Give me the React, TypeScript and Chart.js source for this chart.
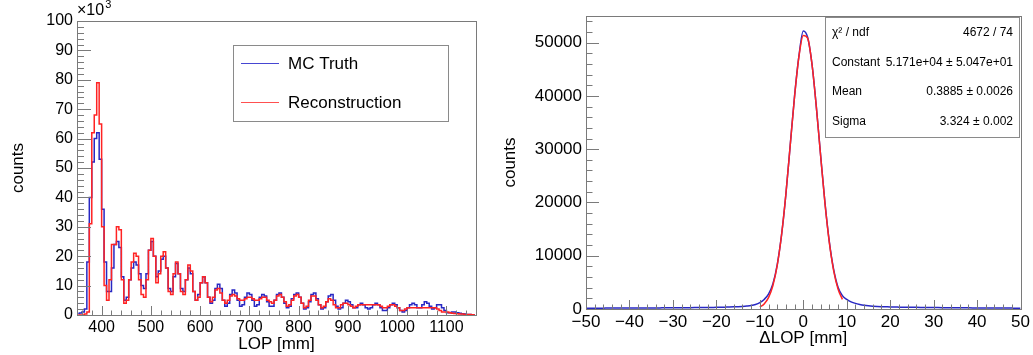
import React, { useEffect, useRef } from 'react';
import { Chart, registerables } from 'chart.js';

Chart.register(...registerables);

const FONT = "'Liberation Sans', Arial, Helvetica, sans-serif";
const BLUE = 'rgb(40,40,195)';
const RED = 'rgb(255,35,35)';
const AXIS = '#7a7a7a';

// ---------- Left panel: LOP histograms (counts in units of 10^3), 5 mm bins from 350 mm ----------
const lopBinStart = 350;
const lopBinWidth = 5;

const mcTruth = [
  0.5, 0.7, 1, 2, 18, 40, 52, 60, 62, 53,
  36, 18, 8, 8, 16, 24, 25, 23, 13, 5,
  6, 12, 16, 18, 17, 14, 10, 9, 14, 22,
  25, 20, 13, 15, 19, 20, 16, 9, 8, 13,
  17.5, 14, 9, 8, 12, 16, 14, 8, 5, 7,
  11, 13, 11, 6, 4, 5, 9, 10.5, 9, 5,
  3, 4, 7, 8.5, 7.5, 5, 3, 3.5, 6, 7.5,
  7, 5, 3, 3.5, 6, 7, 6.5, 4.5, 3, 3,
  5, 7, 7.5, 6, 4, 2.5, 3, 5.5, 7, 7.5,
  6, 4, 2, 2.5, 4.5, 7, 7.5, 5.5, 3.5, 2,
  2.5, 4.5, 6.5, 7, 5, 3, 2, 2.5, 4, 5,
  4.5, 3.5, 2.5, 2.5, 3.5, 4, 3.5, 2.5, 2, 2.5,
  3.5, 4, 3.5, 2.5, 1.5, 1.5, 2.5, 3.5, 4, 3.5,
  2.5, 1.5, 1, 1.5, 2.5, 3.5, 4, 3.5, 2.5, 2.5,
  3.5, 4.5, 4, 3, 2, 2.5, 3.5, 3.5, 2.5, 1.5,
  0.8, 0.8, 1, 1, 0.8, 0.6, 0.4, 0.3, 0.2, 0.2,
  0.1, 0.1,
];

const reconstruction = [
  0, 0, 0, 0.3, 1, 31, 62, 68, 79, 65,
  30, 10, 5, 12, 24, 24, 30, 29, 12, 4,
  5, 12, 18, 21, 20, 12, 7, 6, 12, 22,
  26, 20, 11, 14, 20, 21.5, 16, 8, 7, 14,
  18, 14, 8, 7, 12, 17, 15, 8, 5, 6,
  11, 13, 11, 6, 4.5, 6, 8.5, 9, 7.5, 5,
  4, 5, 6.5, 7, 6.5, 5.5, 5, 5, 5.5, 6,
  6, 5.5, 5, 5, 5.5, 6, 6, 5, 4.5, 4,
  5, 6.5, 7, 6, 4.5, 3, 3.5, 5, 6.5, 7,
  6, 4, 2.5, 3, 5, 6.5, 6.5, 5, 3.5, 2.5,
  3, 4.5, 5.5, 5, 3.5, 2.5, 2.5, 3.5, 4, 4,
  3.5, 3, 2.5, 3, 3.5, 3.5, 3.5, 3.5, 3.5, 3.5,
  3.5, 3.5, 3.5, 3, 2.5, 2.5, 3, 3.5, 3.5, 3,
  2.5, 1.5, 1.5, 2, 2.5, 2.5, 2.5, 2.5, 2.5, 2.5,
  2.5, 2.5, 2.5, 2.5, 2.5, 2.5, 2, 1.5, 1, 1,
  1, 0.8, 0.6, 0.5, 0.4, 0.3, 0.3, 0.2, 0.2, 0.2,
  0.1, 0.1,
];

const lopXTicks = [400, 500, 600, 700, 800, 900, 1000, 1100];
const lopYTicks = [0, 10, 20, 30, 40, 50, 60, 70, 80, 90, 100];
const legendLabels = ['MC Truth', 'Reconstruction'];

// ---------- Right panel: ΔLOP histogram (1 mm sampling from -50) and Gaussian fit ----------
const dLopStart = -50;
const dLopStep = 1;
const dLopCounts = [
  150, 150, 160, 160, 160, 170, 170, 170, 180, 180,
  180, 190, 190, 200, 200, 200, 210, 210, 220, 220,
  230, 230, 240, 240, 250, 260, 270, 280, 290, 300,
  310,
  330, 350, 370, 400, 440, 490, 560, 660, 850, 1200,
  1800, 2800, 4700, 8300, 13900, 21500, 30800, 40000, 47500, 52200,
  51000, 46000, 38000, 28800, 19900, 12600, 7400, 4100, 2500, 1800,
  1350, 1050, 850, 700, 600, 530, 480, 440, 410, 380,
  360, 350, 340, 330, 320, 310, 300, 290, 280, 270,
  260, 250, 240, 235, 230, 225, 220, 215, 210, 205,
  200, 195, 190, 185, 180, 175, 170, 165, 160, 160,
];

const fitX = [-10, -9, -8, -7, -6, -5, -4, -3, -2, -1, 0, 1, 2, 3, 4, 5, 6, 7, 8, 9];
const fitY = [
  391, 957, 2139, 4370, 8150, 13890, 21620, 30740, 39930, 47380,
  51355, 50850, 45990, 37990, 28670, 19770, 12450, 7160, 3765, 1806,
];

const dLopXTicks = [-50, -40, -30, -20, -10, 0, 10, 20, 30, 40, 50];
const dLopYTicks = [0, 10000, 20000, 30000, 40000, 50000];

const statsRows: [string, string][] = [
  ['\u03C7\u00B2 / ndf', '4672 / 74'],
  ['Constant', '5.171e+04 \u00B1 5.047e+01'],
  ['Mean', '0.3885 \u00B1 0.0026'],
  ['Sigma', '3.324 \u00B1 0.002'],
];

// ---------- ROOT-like frame and inward ticks ----------
const framePlugin = {
  id: 'rootFrame',
  afterDatasetsDraw(chart: any, _args: any, opts: any) {
    const { ctx, chartArea: a, scales } = chart;
    const xs = scales.x;
    const ys = scales.y;
    ctx.save();
    ctx.strokeStyle = AXIS;
    ctx.lineWidth = 1;
    ctx.strokeRect(Math.round(a.left) + 0.5, Math.round(a.top) + 0.5, Math.round(a.right - a.left), Math.round(a.bottom - a.top));
    ctx.beginPath();
    const isMajor = (list: number[], v: number) => list.some((m) => Math.abs(m - v) < 1e-6);
    for (let k = Math.ceil(xs.min / opts.xMinor); k * opts.xMinor <= xs.max + 1e-9; k++) {
      const v = k * opts.xMinor;
      const px = Math.round(xs.getPixelForValue(v)) + 0.5;
      const len = isMajor(opts.xMajor, v) ? opts.xLen : opts.xLen / 2;
      ctx.moveTo(px, a.bottom);
      ctx.lineTo(px, a.bottom - len);
    }
    for (let k = Math.ceil(ys.min / opts.yMinor); k * opts.yMinor <= ys.max + 1e-9; k++) {
      const v = k * opts.yMinor;
      const py = Math.round(ys.getPixelForValue(v)) + 0.5;
      const len = isMajor(opts.yMajor, v) ? opts.yLen : opts.yLen / 2;
      ctx.moveTo(a.left, py);
      ctx.lineTo(a.left + len, py);
    }
    ctx.stroke();
    ctx.restore();
  },
};

const leftOverlay = {
  id: 'leftOverlay',
  afterDraw(chart: any) {
    const { ctx, chartArea: a } = chart;
    ctx.save();
    // x10^3 multiplier
    ctx.fillStyle = '#000';
    ctx.textBaseline = 'alphabetic';
    ctx.textAlign = 'left';
    ctx.font = `16px ${FONT}`;
    const base = '\u00D710';
    ctx.fillText(base, a.left, 15);
    const w = ctx.measureText(base).width;
    ctx.font = `11px ${FONT}`;
    ctx.fillText('3', a.left + w + 1, 8);
    // legend box
    const bx = 233, by = 45, bw = 215, bh = 76;
    ctx.fillStyle = '#fff';
    ctx.fillRect(bx, by, bw, bh);
    ctx.strokeStyle = '#8a8a8a';
    ctx.lineWidth = 1;
    ctx.strokeRect(bx + 0.5, by + 0.5, bw, bh);
    const colors = ['rgb(70,70,210)', 'rgb(255,80,80)'];
    const rowsY = [63, 102];
    ctx.font = `17px ${FONT}`;
    ctx.textBaseline = 'middle';
    legendLabels.forEach((lab, i) => {
      ctx.strokeStyle = colors[i];
      ctx.lineWidth = 1.2;
      ctx.beginPath();
      ctx.moveTo(241, rowsY[i] + 0.5);
      ctx.lineTo(279, rowsY[i] + 0.5);
      ctx.stroke();
      ctx.fillStyle = '#000';
      ctx.fillText(lab, 288, rowsY[i] + 1);
    });
    ctx.restore();
  },
};

const rightOverlay = {
  id: 'rightOverlay',
  afterDraw(chart: any) {
    const { ctx, chartArea: a } = chart;
    ctx.save();
    const bw = 194, bh = 120;
    const bx = Math.round(a.right) - 2 - bw;
    const by = Math.round(a.top) + 1;
    ctx.fillStyle = '#fff';
    ctx.fillRect(bx, by, bw, bh);
    ctx.strokeStyle = '#8a8a8a';
    ctx.lineWidth = 1;
    ctx.strokeRect(bx + 0.5, by + 0.5, bw, bh);
    ctx.fillStyle = '#000';
    ctx.font = `12px ${FONT}`;
    ctx.textBaseline = 'middle';
    statsRows.forEach((row, i) => {
      const y = by + 16 + i * 29.5;
      ctx.textAlign = 'left';
      ctx.fillText(row[0], bx + 7, y);
      ctx.textAlign = 'right';
      ctx.fillText(row[1], bx + bw - 6, y);
    });
    ctx.restore();
  },
};

const tickFont = (size: number) => ({ size, family: FONT });

function leftConfig(): any {
  const pts = (arr: number[]) => arr.map((y, i) => ({ x: lopBinStart + lopBinWidth * (i + 0.5), y }));
  return {
    type: 'line',
    data: {
      datasets: [
        { label: legendLabels[1], data: pts(reconstruction), borderColor: RED, borderWidth: 1.5, stepped: 'middle', pointRadius: 0, fill: false, order: 0 },
        { label: legendLabels[0], data: pts(mcTruth), borderColor: BLUE, borderWidth: 1.5, stepped: 'middle', pointRadius: 0, fill: false, order: 1 },
      ],
    },
    options: {
      responsive: false,
      animation: false,
      events: [],
      layout: { padding: { left: 0, right: 24, top: 21, bottom: 0 } },
      plugins: {
        legend: { display: false },
        tooltip: { enabled: false },
        rootFrame: { xMinor: 20, xMajor: lopXTicks, xLen: 9, yMinor: 2, yMajor: lopYTicks, yLen: 14 },
      },
      scales: {
        x: {
          type: 'linear', min: 350, max: 1160,
          afterFit: (s: any) => { s.height = 40; },
          afterBuildTicks: (s: any) => { s.ticks = lopXTicks.map((v) => ({ value: v })); },
          grid: { display: false, drawTicks: false },
          border: { display: false },
          ticks: { autoSkip: false, maxRotation: 0, padding: 3, font: tickFont(16), color: '#000', callback: (v: any) => String(v) },
          title: { display: true, text: 'LOP [mm]', font: tickFont(17), color: '#000', padding: { top: 0, bottom: 0 } },
        },
        y: {
          type: 'linear', min: 0, max: 100,
          afterFit: (s: any) => { s.width = 77; },
          afterBuildTicks: (s: any) => { s.ticks = lopYTicks.map((v) => ({ value: v })); },
          grid: { display: false, drawTicks: false },
          border: { display: false },
          ticks: { autoSkip: false, padding: 4, font: tickFont(16), color: '#000', callback: (v: any) => String(v) },
          title: { display: true, text: 'counts', font: tickFont(17), color: '#000', padding: { top: 8, bottom: 0 } },
        },
      },
    },
    plugins: [framePlugin, leftOverlay],
  };
}

function rightConfig(): any {
  const hist = dLopCounts.map((y, i) => ({ x: dLopStart + dLopStep * i, y }));
  const fit = fitY.map((y, i) => ({ x: fitX[i], y }));
  return {
    type: 'line',
    data: {
      datasets: [
        { label: 'fit', data: fit, borderColor: RED, borderWidth: 1.5, pointRadius: 0, fill: false, cubicInterpolationMode: 'monotone', order: 0 },
        { label: 'dLOP', data: hist, borderColor: BLUE, borderWidth: 1.5, pointRadius: 0, fill: false, cubicInterpolationMode: 'monotone', order: 1 },
      ],
    },
    options: {
      responsive: false,
      animation: false,
      events: [],
      layout: { padding: { left: 0, right: 12, top: 16, bottom: 0 } },
      plugins: {
        legend: { display: false },
        tooltip: { enabled: false },
        rootFrame: { xMinor: 2, xMajor: dLopXTicks, xLen: 9, yMinor: 2000, yMajor: dLopYTicks, yLen: 13 },
      },
      scales: {
        x: {
          type: 'linear', min: -50, max: 50,
          afterFit: (s: any) => { s.height = 46; },
          afterBuildTicks: (s: any) => { s.ticks = dLopXTicks.map((v) => ({ value: v })); },
          grid: { display: false, drawTicks: false },
          border: { display: false },
          ticks: { autoSkip: false, maxRotation: 0, padding: 3, font: tickFont(17), color: '#000', callback: (v: any) => (v < 0 ? '\u2212' + Math.abs(v) : String(v)) },
          title: { display: true, text: '\u0394LOP [mm]', font: tickFont(17), color: '#000', padding: { top: 0, bottom: 6 } },
        },
        y: {
          type: 'linear', min: 0, max: 55000,
          afterFit: (s: any) => { s.width = 86; },
          afterBuildTicks: (s: any) => { s.ticks = dLopYTicks.map((v) => ({ value: v })); },
          grid: { display: false, drawTicks: false },
          border: { display: false },
          ticks: { autoSkip: false, padding: 4, font: tickFont(17), color: '#000', callback: (v: any) => String(v) },
          title: { display: true, text: 'counts', font: tickFont(17), color: '#000', padding: { top: 0, bottom: 0 } },
        },
      },
    },
    plugins: [framePlugin, rightOverlay],
  };
}

export default function App() {
  const leftRef = useRef<HTMLCanvasElement>(null);
  const rightRef = useRef<HTMLCanvasElement>(null);

  useEffect(() => {
    const c1 = new Chart(leftRef.current as HTMLCanvasElement, leftConfig());
    const c2 = new Chart(rightRef.current as HTMLCanvasElement, rightConfig());
    return () => {
      c1.destroy();
      c2.destroy();
    };
  }, []);

  return (
    <div style={{ position: 'fixed', left: 0, top: 0, width: 1033, height: 355, background: '#fff' }}>
      <canvas ref={leftRef} width={500} height={355} style={{ position: 'absolute', left: 0, top: 0, width: 500, height: 355 }} />
      <canvas ref={rightRef} width={533} height={355} style={{ position: 'absolute', left: 500, top: 0, width: 533, height: 355 }} />
    </div>
  );
}
